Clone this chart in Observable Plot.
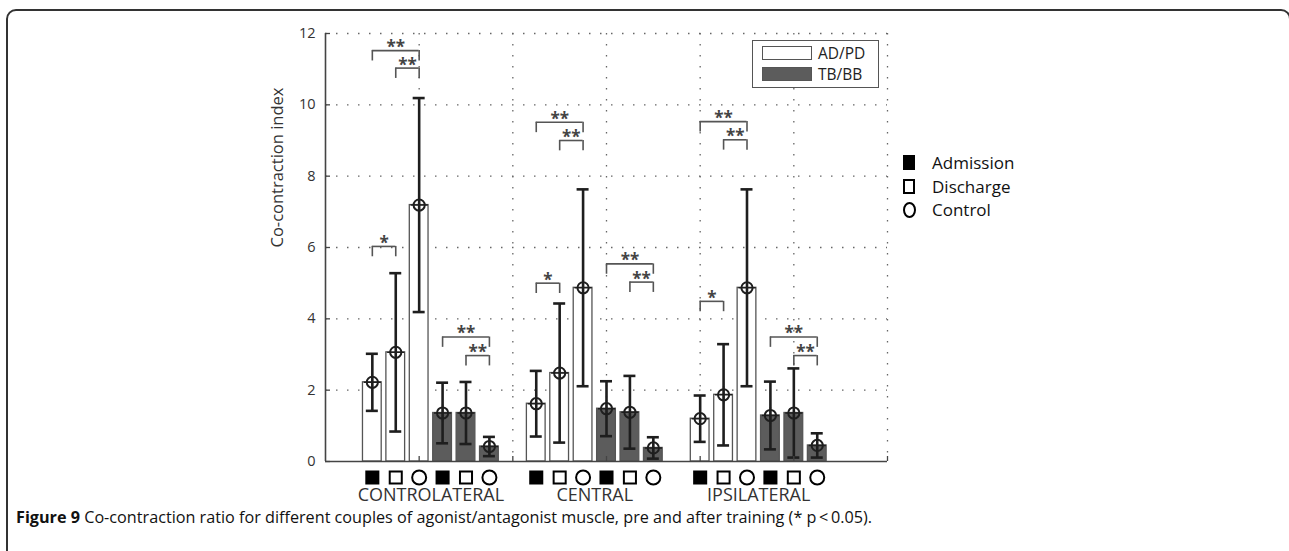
<!DOCTYPE html>
<html>
<head>
<meta charset="utf-8">
<script src="https://cdn.jsdelivr.net/npm/d3@7"></script>
<script src="https://cdn.jsdelivr.net/npm/@observablehq/plot@0.6"></script>
<style>
html, body { margin: 0; padding: 0; background: #fff; overflow: hidden; width: 1289px; height: 551px; }
body { font-family: "Open Sans", sans-serif; color: #222; position: relative; }
#frame { position: absolute; left: 6px; top: 9px; width: 1285px; height: 620px; border: 2px solid #333; border-radius: 10px; box-sizing: border-box; }
#chart { position: absolute; left: 0; top: 0; }
.lg1 { position: absolute; left: 752px; top: 40px; width: 127px; height: 48px; border: 1.5px solid #555; background: #fff; box-sizing: border-box; }
.sw { position: absolute; left: 9px; width: 50px; height: 14px; border: 1.3px solid #555; box-sizing: border-box; }
.lt { position: absolute; left: 65px; font-size: 15.5px; line-height: 15px; color: #222; }
.lg2 { position: absolute; left: 903px; top: 151px; }
.row { position: absolute; left: 0; height: 23px; white-space: nowrap; }
.mk { position: absolute; left: 0; top: 4px; width: 12px; height: 15px; box-sizing: border-box; }
.rt { position: absolute; left: 29px; top: 0px; font-size: 17px; line-height: 23px; color: #111; }
#caption { position: absolute; left: 16px; top: 506px; font-size: 16.2px; white-space: nowrap; color: #111; }
</style>
</head>
<body>
<div id="frame"></div>
<div id="chart"></div>
<div id="caption"></div>
<script>
// ---- data ----
const groups = ["CONTROLATERAL", "CENTRAL", "IPSILATERAL"];
const muscles = ["AD/PD", "TB/BB"];
const conditions = ["Admission", "Discharge", "Control"];
const conditionSymbols = ["square", "square", "circle"];
// mean and SD, ordered group-major then condition
const adpdMean = [2.22, 3.06, 7.19, 1.62, 2.48, 4.87, 1.20, 1.87, 4.87];
const adpdSD   = [0.80, 2.22, 3.00, 0.92, 1.95, 2.76, 0.65, 1.42, 2.76];
const tbbbMean = [1.36, 1.36, 0.42, 1.48, 1.38, 0.38, 1.29, 1.36, 0.45];
const tbbbSD   = [0.85, 0.87, 0.27, 0.77, 1.02, 0.30, 0.95, 1.25, 0.34];
// significance brackets
const sigGroup  = [0, 0, 0, 0, 0, 1, 1, 1, 1, 1, 2, 2, 2, 2, 2];
const sigMuscle = [0, 0, 0, 1, 1, 0, 0, 0, 1, 1, 0, 0, 0, 1, 1];
const sigFrom   = [0, 0, 1, 0, 1, 0, 0, 1, 0, 1, 0, 0, 1, 0, 1];
const sigTo     = [1, 2, 2, 2, 2, 1, 2, 2, 2, 2, 1, 2, 2, 2, 2];
const sigHeight = [6.03, 11.52, 11.03, 3.49, 2.97, 5.00, 9.51, 9.00, 5.54, 5.03, 4.49, 9.53, 9.02, 3.49, 2.97];
const sigLabel  = ["*", "**", "**", "**", "**", "*", "**", "**", "**", "**", "*", "**", "**", "**", "**"];
const yTicks = [0, 2, 4, 6, 8, 10, 12];
const xGrid = [1, 2, 3, 4, 5, 6];
const yLabel = "Co-contraction index";

// ---- layout helpers ----
const pos = (g, m, c) => 0.5 + g * 1.75 + m * 0.75 + c * 0.25;
const bars = [];
groups.forEach((grp, g) => muscles.forEach((mus, m) => conditions.forEach((cond, c) => {
  const i = g * 3 + c;
  bars.push({group: grp, muscle: mus, condition: cond, sym: conditionSymbols[c], c,
    x: pos(g, m, c), mean: (m ? tbbbMean : adpdMean)[i], sd: (m ? tbbbSD : adpdSD)[i]});
})));
const sigs = sigGroup.map((g, k) => ({
  x1: pos(g, sigMuscle[k], sigFrom[k]), x2: pos(g, sigMuscle[k], sigTo[k]),
  y: sigHeight[k], label: sigLabel[k]
}));
const groupLabels = groups.map((name, g) => ({name, x: (pos(g, 0, 0) + pos(g, 1, 2)) / 2}));

const W = 1289, H = 510, mL = 325, mR = 402, mT = 33, mB = 49;
const plotW = W - mL - mR, plotH = H - mT - mB;
const hw = 0.1, cap = 0.064, leg = 0.29;

const chart = Plot.plot({
  width: W, height: H,
  marginLeft: mL, marginRight: mR, marginTop: mT, marginBottom: mB,
  style: {fontFamily: "Open Sans, sans-serif", fontSize: "14px", color: "#333", background: "transparent", overflow: "visible"},
  x: {type: "linear", domain: [0, 6], axis: null},
  y: {domain: [0, 12], axis: null},
  marks: [
    Plot.gridY({ticks: yTicks.slice(1), stroke: "#666", strokeOpacity: 1, strokeWidth: 1.3, strokeDasharray: "1.5,9.5"}),
    Plot.gridX({ticks: xGrid, stroke: "#666", strokeOpacity: 1, strokeWidth: 1.3, strokeDasharray: "1.5,9.5"}),
    Plot.rectY(bars, {x1: d => d.x - hw, x2: d => d.x + hw, y: "mean",
      fill: d => d.muscle === "AD/PD" ? "#fff" : "#5c5c5c", stroke: "#555", strokeWidth: 1.3}),
    Plot.ruleX(bars, {x: "x", y1: d => d.mean - d.sd, y2: d => d.mean + d.sd, stroke: "#1e1e1e", strokeWidth: 2.6}),
    Plot.ruleY(bars, {x1: d => d.x - cap, x2: d => d.x + cap, y: d => d.mean + d.sd, stroke: "#1e1e1e", strokeWidth: 2.6}),
    Plot.ruleY(bars, {x1: d => d.x - cap, x2: d => d.x + cap, y: d => d.mean - d.sd, stroke: "#1e1e1e", strokeWidth: 2.6}),
    Plot.dot(bars, {x: "x", y: "mean", r: 5.6, stroke: "#1e1e1e", strokeWidth: 2, fill: "none"}),
    Plot.dot(bars, {x: "x", y: "mean", r: 5.6, symbol: "plus", stroke: "#1e1e1e", strokeWidth: 1.4}),
    // significance brackets
    Plot.ruleY(sigs, {x1: "x1", x2: "x2", y: "y", stroke: "#555", strokeWidth: 1.6}),
    Plot.ruleX(sigs, {x: "x1", y1: "y", y2: d => d.y - leg, stroke: "#555", strokeWidth: 1.6}),
    Plot.ruleX(sigs, {x: "x2", y1: "y", y2: d => d.y - leg, stroke: "#555", strokeWidth: 1.6}),
    Plot.text(sigs, {x: d => (d.x1 + d.x2) / 2, y: "y", text: "label", dy: -3, fontSize: 17, fontWeight: "bold", fill: "#444"}),
    // axes
    Plot.ruleX([0], {stroke: "#444", strokeWidth: 1.6}),
    Plot.ruleY([0], {stroke: "#444", strokeWidth: 1.6}),
    Plot.tickY(yTicks, {y: d => d, insetRight: plotW - 5, stroke: "#444", strokeWidth: 1.3}),
    Plot.tickX(xGrid, {x: d => d, insetTop: plotH - 5, stroke: "#444", strokeWidth: 1.3}),
    Plot.axisY({ticks: yTicks, tickSize: 0, tickPadding: 10, fontSize: 14.5, fill: "#333", label: null}),
    Plot.text([yLabel], {frameAnchor: "left", dx: -48, rotate: -90, text: d => d, fontSize: 16.5, fill: "#333"}),
    // tick symbols under the bars
    Plot.dot(bars.filter(d => d.c < 2), {x: "x", frameAnchor: "bottom", dy: 16, symbol: "square", r: 6.8,
      fill: d => d.c === 0 ? "#000" : "#fff", stroke: "#000", strokeWidth: 2}),
    Plot.dot(bars.filter(d => d.c === 2), {x: "x", frameAnchor: "bottom", dy: 16, symbol: "circle", r: 7,
      fill: "#fff", stroke: "#000", strokeWidth: 2}),
    Plot.text(groupLabels, {x: "x", frameAnchor: "bottom", dy: 39, text: "name", fontSize: 18, fill: "#333"})
  ]
});
document.getElementById("chart").appendChild(chart);

// legends
const lg1 = document.createElement("div");
lg1.className = "lg1";
lg1.innerHTML = muscles.map((m, i) =>
  `<div class="sw" style="top:${5 + i * 21}px;background:${i ? "#5c5c5c" : "#fff"}"></div>` +
  `<div class="lt" style="top:${5 + i * 21}px">${m}</div>`).join("");
document.body.appendChild(lg1);

const lg2 = document.createElement("div");
lg2.className = "lg2";
lg2.innerHTML = conditions.map((c, i) => {
  const mk = i === 0 ? `<div class="mk" style="background:#000"></div>`
    : i === 1 ? `<div class="mk" style="border:2px solid #000"></div>`
    : `<div class="mk" style="border:2px solid #000;border-radius:50%;height:16px;width:13px"></div>`;
  return `<div class="row" style="top:${i * 23.5}px">${mk}<div class="rt">${c}</div></div>`;
}).join("");
document.body.appendChild(lg2);

document.getElementById("caption").innerHTML =
  "<b>Figure 9</b> Co-contraction ratio for different couples of agonist/antagonist muscle, pre and after training (* p\u2009<\u20090.05).";
</script>
</body>
</html>
